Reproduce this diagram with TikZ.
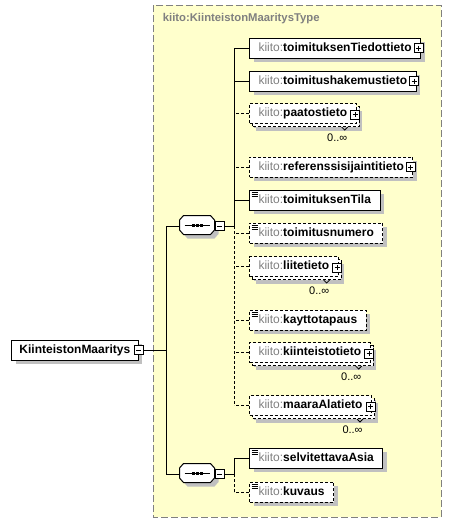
\documentclass[tikz,border=0pt]{standalone}
\usepackage{fontspec}
\setmainfont{Liberation Sans}
\usetikzlibrary{shadows}
\definecolor{panelyellow}{RGB}{255,255,204}
\definecolor{panelline}{RGB}{128,128,128}
\definecolor{nsgrey}{RGB}{128,128,128}
\definecolor{shadegrey}{RGB}{192,192,192}
\newcommand\kiito[1]{{\color{nsgrey}kiito:}\textbf{#1}}
% octagon round a sequence node, shifted by #2,#3
\newcommand\octo[3]{([xshift=#2+4pt,yshift=#3]#1.north west) -- ([xshift=#2-4pt,yshift=#3]#1.north east)
  -- ([xshift=#2,yshift=#3-4.5pt]#1.north east) -- ([xshift=#2,yshift=#3+4.5pt]#1.south east)
  -- ([xshift=#2-4pt,yshift=#3]#1.south east) -- ([xshift=#2+4pt,yshift=#3]#1.south west)
  -- ([xshift=#2,yshift=#3+4.5pt]#1.south west) -- ([xshift=#2,yshift=#3-4.5pt]#1.north west) -- cycle}
\newcommand\seqmark[1]{%
  \fill[shadegrey] \octo{#1}{4pt}{-4pt};
  \filldraw[fill=white] \octo{#1}{0pt}{0pt};
  \draw ([xshift=5pt]#1.west) -- ([xshift=-5pt]#1.east);
  \foreach \d in {-4,0,4} \fill ([xshift=\d pt-1.5pt,yshift=-1.5pt]#1.center) rectangle +(3pt,3pt);}
\tikzset{
  shadowed/.style={general shadow={shadow xshift=4pt,shadow yshift=-4pt,fill=shadegrey}},
  elem/.style={rectangle,draw,fill=white,anchor=west,minimum height=20pt,
    inner xsep=9pt,inner ysep=0pt,text height=8.6pt,text depth=2.6pt,shadowed},
  opt/.style={dash pattern=on 3pt off 2pt},
  multi/.style={general shadow={shadow xshift=6pt,shadow yshift=-7pt,fill=shadegrey},
    general shadow={shadow xshift=3pt,shadow yshift=-3pt,fill=white,draw,dash pattern=on 3pt off 2pt}},
  simple/.style={path picture={\foreach \k in {2.5,4.5,6.5}
    \draw[line width=0.9pt,solid] ([xshift=2pt,yshift=-\k pt]path picture bounding box.north west) -- ++(6pt,0pt);}},
  toggle/.style={rectangle,draw,solid,fill=white,minimum size=9pt,inner sep=0pt},
  plusbox/.style={toggle,path picture={\draw[solid]
    ([xshift=2pt]path picture bounding box.west) -- ([xshift=-2pt]path picture bounding box.east)
    ([yshift=-2pt]path picture bounding box.north) -- ([yshift=2pt]path picture bounding box.south);}},
  minusbox/.style={toggle,path picture={\draw
    ([xshift=2pt]path picture bounding box.west) -- ([xshift=-2pt]path picture bounding box.east);}},
  seq/.style={rectangle,minimum width=34pt,minimum height=18pt,inner sep=0pt},
  mult/.style={font=\fontsize{11pt}{13pt}\selectfont,inner sep=0pt},
  notch/.style={line width=0.8pt},
  panel/.style={draw=panelline,fill=panelyellow,dash pattern=on 7pt off 3pt}
}
\begin{document}
\begin{tikzpicture}[x=1pt,y=-1pt,line width=1pt,every node/.style={font=\fontsize{12pt}{14pt}\selectfont}]
  \useasboundingbox (0,0) rectangle (452,523);
  % complex type panel
  \draw[panel] (153,5) rectangle (441,517);
  \node[anchor=west,text=nsgrey,font=\bfseries\fontsize{11.3pt}{13pt}\selectfont] (typename) at (159,19) {kiito:KiinteistonMaaritysType};

  % root element and sequences
  \node[elem,inner xsep=8pt] (root) at (11,350) {\textbf{KiinteistonMaaritys}};
  \node[minusbox] (rootm) at (root.east) {};
  \node[seq] (seqA) at (197,225) {};
  \seqmark{seqA}
  \node[minusbox,anchor=west] (seqAm) at ([yshift=-1pt]seqA.east) {};
  \node[seq] (seqB) at (197,473) {};
  \seqmark{seqB}
  \node[minusbox,anchor=west] (seqBm) at ([yshift=-1pt]seqB.east) {};
  \coordinate (trunk) at (166,350);
  \coordinate (busA) at (234,226);
  \coordinate (busB) at (234,474);

  % children of the first sequence
  \node[elem] (c1) at (249,48) {\kiito{toimituksenTiedottieto}\hspace{5pt}};
  \node[plusbox] (c1p) at ([xshift=-2.5pt]c1.east) {};
  \node[elem] (c2) at (249,81) {\kiito{toimitushakemustieto}\hspace{5pt}};
  \node[plusbox] (c2p) at ([xshift=-2.5pt]c2.east) {};
  \node[elem,opt,multi] (c3) at (249,113.5) {\kiito{paatostieto}\hspace{5pt}};
  \node[plusbox] (c3p) at ([xshift=-1.5pt,yshift=-1pt]c3.east) {};
  \draw[notch] ([xshift=-15pt,yshift=-3pt]c3.south east) -- ++(3pt,-3pt) -- ++(3pt,3pt);
  \node[mult] (c3n) at ([xshift=-19.5pt,yshift=-24pt]c3.east) {0..∞};
  \node[elem,opt] (c4) at (249,167) {\kiito{referenssisijaintitieto}\hspace{5pt}};
  \node[plusbox] (c4p) at ([xshift=-2.5pt]c4.east) {};
  \node[elem,simple] (c5) at (249,200) {\kiito{toimituksenTila}};
  \node[elem,opt,simple] (c6) at (249,233) {\kiito{toimitusnumero}};
  \node[elem,opt,multi] (c7) at (249,266.5) {\kiito{liitetieto}\hspace{5pt}};
  \node[plusbox] (c7p) at ([xshift=-1.5pt,yshift=-1pt]c7.east) {};
  \draw[notch] ([xshift=-15pt,yshift=-3pt]c7.south east) -- ++(3pt,-3pt) -- ++(3pt,3pt);
  \node[mult] (c7n) at ([xshift=-19.5pt,yshift=-24pt]c7.east) {0..∞};
  \node[elem,opt,simple] (c8) at (249,320) {\kiito{kayttotapaus}};
  \node[elem,opt,multi] (c9) at (249,352.5) {\kiito{kiinteistotieto}\hspace{5pt}};
  \node[plusbox] (c9p) at ([xshift=-1.5pt,yshift=-1pt]c9.east) {};
  \draw[notch] ([xshift=-15pt,yshift=-3pt]c9.south east) -- ++(3pt,-3pt) -- ++(3pt,3pt);
  \node[mult] (c9n) at ([xshift=-19.5pt,yshift=-24pt]c9.east) {0..∞};
  \node[elem,opt,multi] (c10) at (249,405.5) {\kiito{maaraAlatieto}\hspace{5pt}};
  \node[plusbox] (c10p) at ([xshift=-1.5pt,yshift=-1pt]c10.east) {};
  \draw[notch] ([xshift=-15pt,yshift=-3pt]c10.south east) -- ++(3pt,-3pt) -- ++(3pt,3pt);
  \node[mult] (c10n) at ([xshift=-19.5pt,yshift=-24pt]c10.east) {0..∞};

  % children of the second sequence
  \node[elem,simple] (c11) at (249,458) {\kiito{selvitettavaAsia}};
  \node[elem,opt,simple] (c12) at (249,492) {\kiito{kuvaus}};

  % connectors
  \draw (rootm.east) -- (trunk);
  \draw (trunk |- busA) -- (trunk |- busB);
  \draw (trunk |- busA) -- (busA -| seqA.west);
  \draw (trunk |- busB) -- (busB -| seqB.west);
  \draw (seqAm.east) -- (busA);
  \draw (seqBm.east) -- (busB);
  \draw (busA) -- (busA |- c1.west);
  \draw[opt] (busA) -- (busA |- c10.west);
  \draw (busB) -- (busB |- c11.west);
  \draw[opt] (busB) -- (busB |- c12.west);
  \foreach \c in {c1,c2,c5,c11}
    \draw (\c.west) -- (busA |- \c.west);
  \foreach \c in {c3,c4,c6,c7,c8,c9,c10,c12}
    \draw[opt] (\c.west) -- (busA |- \c.west);
\end{tikzpicture}
\end{document}
